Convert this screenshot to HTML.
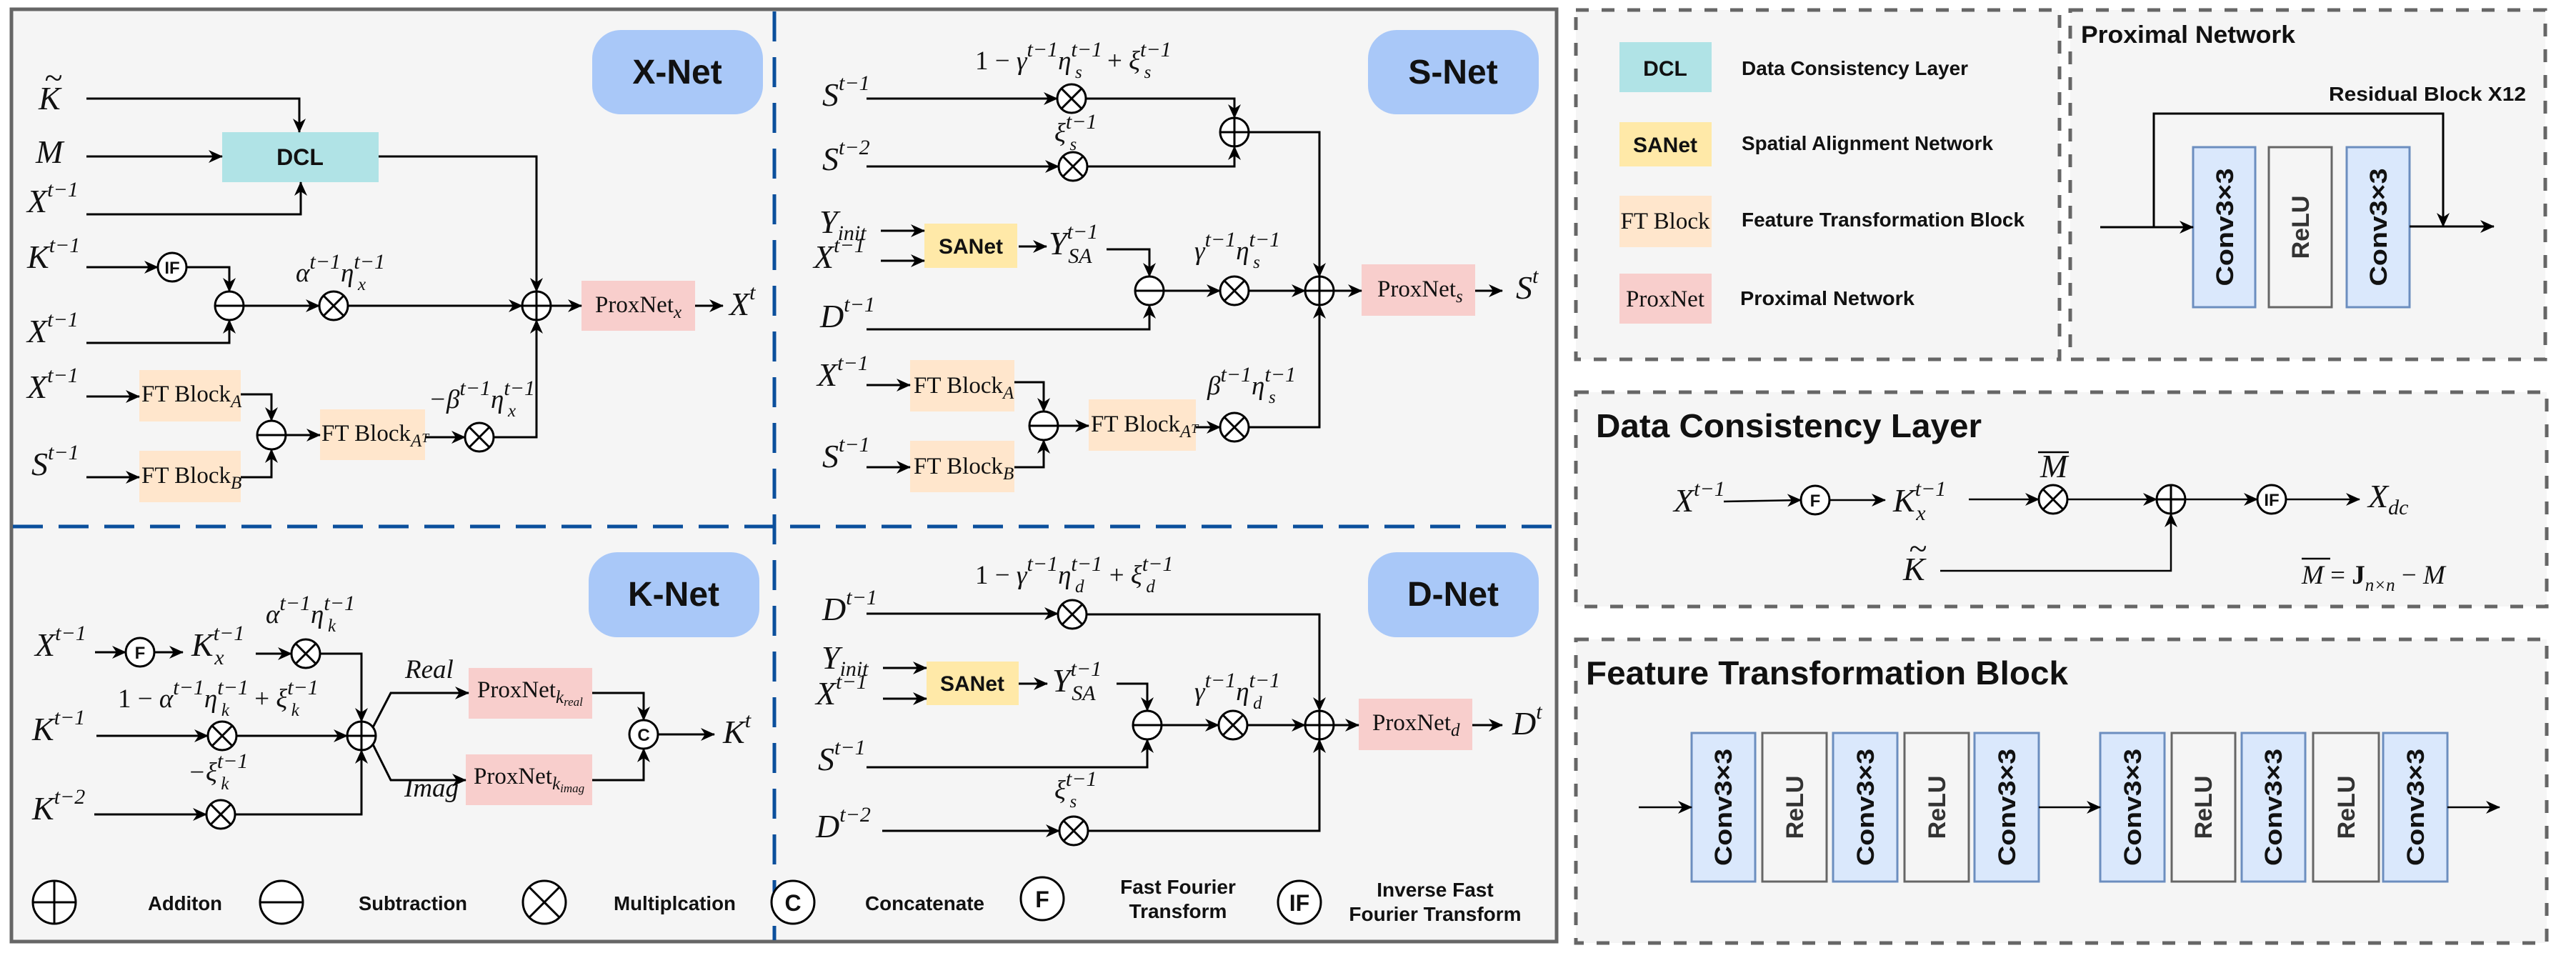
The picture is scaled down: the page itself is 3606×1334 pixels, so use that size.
<!DOCTYPE html>
<html><head><meta charset="utf-8"><style>
html,body{margin:0;padding:0;background:#fff}
svg{display:block}
.m{font-family:"Liberation Serif",serif;font-style:italic;font-size:46px;fill:#111}
.c{font-family:"Liberation Serif",serif;font-style:italic;font-size:37px;fill:#111}
.u{font-size:30px}
.v{font-size:25px}
.r{font-family:"Liberation Serif",serif;font-size:33px;fill:#111}
.b{font-family:"Liberation Sans",sans-serif;font-weight:bold;fill:#111}
.ln{fill:none;stroke:#000;stroke-width:3}
.ln2{fill:none;stroke:#000;stroke-width:2.5}
</style></head><body>
<svg width="3606" height="1334" viewBox="0 0 3606 1334" xmlns="http://www.w3.org/2000/svg">
<defs>
<marker id="a" viewBox="0 0 20 18" refX="19" refY="9" markerWidth="20" markerHeight="18" orient="auto" markerUnits="userSpaceOnUse"><path d="M0,0 L20,9 L0,18 L6,9 z" fill="#000"/></marker>
<g id="pl"><circle r="20" fill="#fff" stroke="#000" stroke-width="3"/><path d="M-20,0H20M0,-20V20" stroke="#000" stroke-width="3"/></g>
<g id="mi"><circle r="20" fill="#fff" stroke="#000" stroke-width="3"/><path d="M-20,0H20" stroke="#000" stroke-width="3"/></g>
<g id="ti"><circle r="20" fill="#fff" stroke="#000" stroke-width="3"/><path d="M-14,-14L14,14M14,-14L-14,14" stroke="#000" stroke-width="3"/></g>
<g id="IF"><circle r="20" fill="#fff" stroke="#000" stroke-width="3"/><text y="9" text-anchor="middle" class="b" font-size="24">IF</text></g>
<g id="F"><circle r="20" fill="#fff" stroke="#000" stroke-width="3"/><text y="9" text-anchor="middle" class="b" font-size="24">F</text></g>
<g id="C"><circle r="20" fill="#fff" stroke="#000" stroke-width="3"/><text y="9" text-anchor="middle" class="b" font-size="24">C</text></g>
</defs>

<rect x="16" y="13" width="2163" height="1305" fill="#f5f5f5" stroke="#666" stroke-width="5"/>
<line x1="1084" y1="16" x2="1084" y2="1316" stroke="#0b4f9c" stroke-width="5" stroke-dasharray="42 22"/>
<line x1="18" y1="737" x2="2177" y2="737" stroke="#0b4f9c" stroke-width="5" stroke-dasharray="42 22"/>

<rect x="829" y="42" width="239" height="118" rx="40" fill="#a9c8f8"/>
<text x="948" y="117" text-anchor="middle" class="b" font-size="48" fill="#222">X-Net</text>
<rect x="1915" y="42" width="239" height="118" rx="40" fill="#a9c8f8"/>
<text x="2034" y="117" text-anchor="middle" class="b" font-size="48" fill="#222">S-Net</text>
<rect x="824" y="773" width="239" height="119" rx="40" fill="#a9c8f8"/>
<text x="943" y="848" text-anchor="middle" class="b" font-size="48" fill="#222">K-Net</text>
<rect x="1915" y="773" width="239" height="119" rx="40" fill="#a9c8f8"/>
<text x="2034" y="848" text-anchor="middle" class="b" font-size="48" fill="#222">D-Net</text>

<!-- X-Net -->
<rect x="311" y="185" width="219" height="70" fill="#b0e3e6"/>
<text x="420" y="231" text-anchor="middle" class="b" font-size="32">DCL</text>
<rect x="814" y="393" width="159" height="70" fill="#f8cecc"/>
<text x="833" y="437" class="r">ProxNet<tspan class="v" font-style="italic" dy="8">x</tspan></text>
<rect x="195" y="518" width="142" height="72" fill="#ffe6cc"/>
<text x="198" y="562" class="r">FT Block<tspan class="v" font-style="italic" dy="8">A</tspan></text>
<rect x="195" y="631" width="142" height="72" fill="#ffe6cc"/>
<text x="198" y="676" class="r">FT Block<tspan class="v" font-style="italic" dy="8">B</tspan></text>
<rect x="448" y="573" width="147" height="71" fill="#ffe6cc"/>
<text x="450" y="617" class="r">FT Block<tspan class="v" font-style="italic" dy="8">A<tspan font-size="18" dy="-6">T</tspan></tspan></text>

<text class="m" x="54" y="153">K</text><text class="m" x="62" y="124" font-style="normal">~</text>
<text class="m" x="50" y="228">M</text>
<text class="m" x="38" y="297">X<tspan class="u" dy="-22">t−1</tspan></text>
<text class="m" x="38" y="375">K<tspan class="u" dy="-22">t−1</tspan></text>
<text class="m" x="38" y="479">X<tspan class="u" dy="-22">t−1</tspan></text>
<text class="m" x="38" y="557">X<tspan class="u" dy="-22">t−1</tspan></text>
<text class="m" x="44" y="665">S<tspan class="u" dy="-22">t−1</tspan></text>
<text class="c" x="414" y="394">α<tspan class="u" dy="-18">t−1</tspan><tspan dy="18">η</tspan><tspan class="u" dy="-18">t−1</tspan><tspan class="v" dx="-38" dy="30">x</tspan></text>
<text class="c" x="600" y="571">−β<tspan class="u" dy="-18">t−1</tspan><tspan dy="18">η</tspan><tspan class="u" dy="-18">t−1</tspan><tspan class="v" dx="-38" dy="30">x</tspan></text>
<text class="m" x="1021" y="441">X<tspan class="u" dy="-22">t</tspan></text>

<g marker-end="url(#a)">
<polyline class="ln" points="121,138 419,138 419,185"/>
<polyline class="ln" points="121,219 311,219"/>
<polyline class="ln" points="121,300 421,300 421,255"/>
<polyline class="ln" points="530,219 751,219 751,408"/>
<polyline class="ln" points="121,374 221,374"/>
<polyline class="ln" points="261,374 321,374 321,408"/>
<polyline class="ln" points="121,480 321,480 321,448"/>
<polyline class="ln" points="341,428 447,428"/>
<polyline class="ln" points="487,428 731,428"/>
<polyline class="ln" points="771,428 814,428"/>
<polyline class="ln" points="973,428 1012,428"/>
<polyline class="ln" points="121,555 195,555"/>
<polyline class="ln" points="121,668 195,668"/>
<polyline class="ln" points="337,552 380,552 380,589"/>
<polyline class="ln" points="337,668 380,668 380,629"/>
<polyline class="ln" points="400,609 448,609"/>
<polyline class="ln" points="595,612 651,612"/>
<polyline class="ln" points="691,612 751,612 751,448"/>
</g>
<use href="#IF" x="241" y="374"/>
<use href="#mi" x="321" y="428"/>
<use href="#ti" x="467" y="428"/>
<use href="#pl" x="751" y="428"/>
<use href="#mi" x="380" y="609"/>
<use href="#ti" x="671" y="612"/>

<!-- S-Net -->
<rect x="1294" y="313" width="130" height="62" fill="#ffe9a8"/>
<text x="1359" y="355" text-anchor="middle" class="b" font-size="30">SANet</text>
<rect x="1906" y="370" width="159" height="72" fill="#f8cecc"/>
<text x="1928" y="415" class="r">ProxNet<tspan class="v" font-style="italic" dy="8">s</tspan></text>
<rect x="1274" y="504" width="146" height="72" fill="#ffe6cc"/>
<text x="1279" y="550" class="r">FT Block<tspan class="v" font-style="italic" dy="8">A</tspan></text>
<rect x="1274" y="617" width="146" height="72" fill="#ffe6cc"/>
<text x="1279" y="663" class="r">FT Block<tspan class="v" font-style="italic" dy="8">B</tspan></text>
<rect x="1524" y="559" width="150" height="72" fill="#ffe6cc"/>
<text x="1527" y="604" class="r">FT Block<tspan class="v" font-style="italic" dy="8">A<tspan font-size="18" dy="-6">T</tspan></tspan></text>

<text class="c" x="1365" y="97"><tspan font-style="normal">1 − </tspan>γ<tspan class="u" dy="-18">t−1</tspan><tspan dy="18">η</tspan><tspan class="u" dy="-18">t−1</tspan><tspan class="v" dx="-38" dy="30">s</tspan><tspan font-style="normal" dx="26" dy="-12"> + </tspan>ξ<tspan class="u" dy="-18">t−1</tspan><tspan class="v" dx="-38" dy="30">s</tspan></text>
<text class="m" x="1151" y="148">S<tspan class="u" dy="-22">t−1</tspan></text>
<text class="c" x="1476" y="198">ξ<tspan class="u" dy="-18">t−1</tspan><tspan class="v" dx="-38" dy="30">s</tspan></text>
<text class="m" x="1151" y="238">S<tspan class="u" dy="-22">t−2</tspan></text>
<text class="m" x="1147" y="326">Y<tspan class="u" dy="10">init</tspan></text>
<text class="m" x="1139" y="375">X<tspan class="u" dy="-22">t−1</tspan></text>
<text class="m" x="1468" y="356">Y<tspan class="u" dy="-22">t−1</tspan><tspan class="u" dx="-42" dy="34">SA</tspan></text>
<text class="m" x="1148" y="458">D<tspan class="u" dy="-22">t−1</tspan></text>
<text class="c" x="1672" y="363">γ<tspan class="u" dy="-18">t−1</tspan><tspan dy="18">η</tspan><tspan class="u" dy="-18">t−1</tspan><tspan class="v" dx="-38" dy="30">s</tspan></text>
<text class="m" x="1144" y="540">X<tspan class="u" dy="-22">t−1</tspan></text>
<text class="m" x="1151" y="654">S<tspan class="u" dy="-22">t−1</tspan></text>
<text class="c" x="1690" y="552">β<tspan class="u" dy="-18">t−1</tspan><tspan dy="18">η</tspan><tspan class="u" dy="-18">t−1</tspan><tspan class="v" dx="-38" dy="30">s</tspan></text>
<text class="m" x="2122" y="418">S<tspan class="u" dy="-22">t</tspan></text>

<g marker-end="url(#a)">
<polyline class="ln" points="1213,138 1480,138"/>
<polyline class="ln" points="1213,233 1482,233"/>
<polyline class="ln" points="1520,138 1728,138 1728,165"/>
<polyline class="ln" points="1522,233 1728,233 1728,205"/>
<polyline class="ln" points="1748,185 1847,185 1847,387"/>
<polyline class="ln" points="1233,323 1294,323"/>
<polyline class="ln" points="1233,365 1294,365"/>
<polyline class="ln" points="1426,345 1465,345"/>
<polyline class="ln" points="1549,349 1609,349 1609,387"/>
<polyline class="ln" points="1213,461 1609,461 1609,427"/>
<polyline class="ln" points="1629,407 1708,407"/>
<polyline class="ln" points="1748,407 1827,407"/>
<polyline class="ln" points="1867,407 1906,407"/>
<polyline class="ln" points="2065,407 2103,407"/>
<polyline class="ln" points="1213,539 1274,539"/>
<polyline class="ln" points="1213,654 1274,654"/>
<polyline class="ln" points="1420,535 1461,535 1461,576"/>
<polyline class="ln" points="1420,654 1461,654 1461,616"/>
<polyline class="ln" points="1481,596 1524,596"/>
<polyline class="ln" points="1674,598 1708,598"/>
<polyline class="ln" points="1748,598 1847,598 1847,427"/>
</g>
<use href="#ti" x="1500" y="138"/>
<use href="#ti" x="1502" y="233"/>
<use href="#pl" x="1728" y="185"/>
<use href="#mi" x="1609" y="407"/>
<use href="#ti" x="1728" y="407"/>
<use href="#pl" x="1847" y="407"/>
<use href="#mi" x="1461" y="596"/>
<use href="#ti" x="1728" y="598"/>

<!-- K-Net -->
<rect x="656" y="935" width="173" height="71" fill="#f8cecc"/>
<text x="668" y="976" class="r">ProxNet<tspan class="v" font-style="italic" dy="8">k<tspan font-size="17" dy="4">real</tspan></tspan></text>
<rect x="652" y="1056" width="177" height="71" fill="#f8cecc"/>
<text x="663" y="1097" class="r">ProxNet<tspan class="v" font-style="italic" dy="8">k<tspan font-size="17" dy="4">imag</tspan></tspan></text>

<text class="m" x="49" y="918">X<tspan class="u" dy="-22">t−1</tspan></text>
<text class="m" x="268" y="918">K<tspan class="u" dy="-22">t−1</tspan><tspan class="u" dx="-42" dy="34">x</tspan></text>
<text class="c" x="372" y="872">α<tspan class="u" dy="-18">t−1</tspan><tspan dy="18">η</tspan><tspan class="u" dy="-18">t−1</tspan><tspan class="v" dx="-38" dy="30">k</tspan></text>
<text class="c" x="165" y="990"><tspan font-style="normal">1 − </tspan>α<tspan class="u" dy="-18">t−1</tspan><tspan dy="18">η</tspan><tspan class="u" dy="-18">t−1</tspan><tspan class="v" dx="-38" dy="30">k</tspan><tspan font-style="normal" dx="26" dy="-12"> + </tspan>ξ<tspan class="u" dy="-18">t−1</tspan><tspan class="v" dx="-38" dy="30">k</tspan></text>
<text class="m" x="45" y="1036">K<tspan class="u" dy="-22">t−1</tspan></text>
<text class="c" x="263" y="1093">−ξ<tspan class="u" dy="-18">t−1</tspan><tspan class="v" dx="-38" dy="30">k</tspan></text>
<text class="m" x="45" y="1147">K<tspan class="u" dy="-22">t−2</tspan></text>
<text class="c" x="567" y="949" font-size="26">Real</text>
<text class="c" x="566" y="1115" font-size="26">Imag</text>
<text class="m" x="1012" y="1040">K<tspan class="u" dy="-22">t</tspan></text>

<g marker-end="url(#a)">
<polyline class="ln" points="133,913 176,913"/>
<polyline class="ln" points="216,913 256,913"/>
<polyline class="ln" points="358,915 408,915"/>
<polyline class="ln" points="448,915 506,915 506,1010"/>
<polyline class="ln" points="135,1030 291,1030"/>
<polyline class="ln" points="331,1030 486,1030"/>
<polyline class="ln" points="132,1140 289,1140"/>
<polyline class="ln" points="329,1140 506,1140 506,1050"/>
<polyline class="ln" points="521,1020 547,970 656,970"/>
<polyline class="ln" points="521,1040 547,1092 652,1092"/>
<polyline class="ln" points="829,970 901,970 901,1008"/>
<polyline class="ln" points="829,1092 901,1092 901,1048"/>
<polyline class="ln" points="921,1028 1000,1028"/>
</g>
<use href="#F" x="196" y="913"/>
<use href="#ti" x="428" y="915"/>
<use href="#ti" x="311" y="1030"/>
<use href="#ti" x="309" y="1140"/>
<use href="#pl" x="506" y="1030"/>
<use href="#C" x="901" y="1028"/>

<!-- D-Net -->
<rect x="1297" y="926" width="129" height="61" fill="#ffe9a8"/>
<text x="1361" y="967" text-anchor="middle" class="b" font-size="30">SANet</text>
<rect x="1902" y="978" width="159" height="72" fill="#f8cecc"/>
<text x="1921" y="1022" class="r">ProxNet<tspan class="v" font-style="italic" dy="8">d</tspan></text>

<text class="c" x="1365" y="817"><tspan font-style="normal">1 − </tspan>γ<tspan class="u" dy="-18">t−1</tspan><tspan dy="18">η</tspan><tspan class="u" dy="-18">t−1</tspan><tspan class="v" dx="-38" dy="30">d</tspan><tspan font-style="normal" dx="26" dy="-12"> + </tspan>ξ<tspan class="u" dy="-18">t−1</tspan><tspan class="v" dx="-38" dy="30">d</tspan></text>
<text class="m" x="1151" y="868">D<tspan class="u" dy="-22">t−1</tspan></text>
<text class="m" x="1150" y="936">Y<tspan class="u" dy="10">init</tspan></text>
<text class="m" x="1142" y="986">X<tspan class="u" dy="-22">t−1</tspan></text>
<text class="m" x="1473" y="968">Y<tspan class="u" dy="-22">t−1</tspan><tspan class="u" dx="-42" dy="34">SA</tspan></text>
<text class="c" x="1672" y="980">γ<tspan class="u" dy="-18">t−1</tspan><tspan dy="18">η</tspan><tspan class="u" dy="-18">t−1</tspan><tspan class="v" dx="-38" dy="30">d</tspan></text>
<text class="m" x="1145" y="1078">S<tspan class="u" dy="-22">t−1</tspan></text>
<text class="c" x="1476" y="1118">ξ<tspan class="u" dy="-18">t−1</tspan><tspan class="v" dx="-38" dy="30">s</tspan></text>
<text class="m" x="1142" y="1172">D<tspan class="u" dy="-22">t−2</tspan></text>
<text class="m" x="2117" y="1028">D<tspan class="u" dy="-22">t</tspan></text>

<g marker-end="url(#a)">
<polyline class="ln" points="1213,859 1481,859"/>
<polyline class="ln" points="1521,860 1847,860 1847,995"/>
<polyline class="ln" points="1236,935 1297,935"/>
<polyline class="ln" points="1236,978 1297,978"/>
<polyline class="ln" points="1426,957 1466,957"/>
<polyline class="ln" points="1563,957 1606,957 1606,995"/>
<polyline class="ln" points="1213,1074 1606,1074 1606,1035"/>
<polyline class="ln" points="1626,1015 1706,1015"/>
<polyline class="ln" points="1746,1015 1827,1015"/>
<polyline class="ln" points="1867,1015 1902,1015"/>
<polyline class="ln" points="2061,1015 2103,1015"/>
<polyline class="ln" points="1235,1163 1483,1163"/>
<polyline class="ln" points="1523,1163 1847,1163 1847,1035"/>
</g>
<use href="#ti" x="1501" y="860"/>
<use href="#mi" x="1606" y="1015"/>
<use href="#ti" x="1726" y="1015"/>
<use href="#pl" x="1847" y="1015"/>
<use href="#ti" x="1503" y="1163"/>

<!-- bottom legend -->
<g stroke="#000" stroke-width="3" fill="#fff">
<circle cx="76" cy="1263" r="30"/><path d="M46,1263H106M76,1233V1293"/>
<circle cx="394" cy="1263" r="30"/><path d="M364,1263H424"/>
<circle cx="762" cy="1263" r="30"/><path d="M741,1242L783,1284M783,1242L741,1284"/>
<circle cx="1110" cy="1263" r="30"/>
<circle cx="1459" cy="1258" r="30"/>
<circle cx="1819" cy="1263" r="30"/>
</g>
<text x="1110" y="1275" text-anchor="middle" class="b" font-size="32">C</text>
<text x="1459" y="1270" text-anchor="middle" class="b" font-size="32">F</text>
<text x="1819" y="1275" text-anchor="middle" class="b" font-size="32">IF</text>
<g class="b" font-size="28">
<text x="207" y="1274" textLength="104" lengthAdjust="spacingAndGlyphs">Additon</text>
<text x="502" y="1274" textLength="152" lengthAdjust="spacingAndGlyphs">Subtraction</text>
<text x="859" y="1274" textLength="171" lengthAdjust="spacingAndGlyphs">Multiplcation</text>
<text x="1211" y="1274" textLength="167" lengthAdjust="spacingAndGlyphs">Concatenate</text>
<text x="1649" y="1251" text-anchor="middle">Fast Fourier</text>
<text x="1649" y="1285" text-anchor="middle">Transform</text>
<text x="2009" y="1255" text-anchor="middle">Inverse Fast</text>
<text x="2009" y="1289" text-anchor="middle">Fourier Transform</text>
</g>

<!-- right boxes -->
<g fill="#f5f5f5" stroke="#666" stroke-width="5" stroke-dasharray="18 18">
<rect x="2206" y="14" width="677" height="489"/>
<rect x="2898" y="14" width="665" height="489"/>
<rect x="2206" y="549" width="1359" height="300"/>
<rect x="2206" y="895" width="1359" height="425"/>
</g>
<rect x="2267" y="59" width="129" height="70" fill="#b0e3e6"/>
<text x="2331" y="106" text-anchor="middle" class="b" font-size="30">DCL</text>
<rect x="2267" y="171" width="129" height="62" fill="#ffe9a8"/>
<text x="2331" y="213" text-anchor="middle" class="b" font-size="30">SANet</text>
<rect x="2267" y="274" width="129" height="72" fill="#ffe6cc"/>
<text x="2331" y="320" text-anchor="middle" class="r" font-size="30">FT Block</text>
<rect x="2267" y="383" width="129" height="70" fill="#f8cecc"/>
<text x="2331" y="429" text-anchor="middle" class="r" font-size="30">ProxNet</text>
<g class="b" font-size="28">
<text x="2438" y="105" textLength="317" lengthAdjust="spacingAndGlyphs">Data Consistency Layer</text>
<text x="2438" y="210" textLength="352" lengthAdjust="spacingAndGlyphs">Spatial Alignment Network</text>
<text x="2438" y="317" textLength="396" lengthAdjust="spacingAndGlyphs">Feature Transformation Block</text>
<text x="2436" y="427" textLength="244" lengthAdjust="spacingAndGlyphs">Proximal  Network</text>
</g>

<text x="2913" y="60" class="b" font-size="34" textLength="300" lengthAdjust="spacingAndGlyphs">Proximal Network</text>
<text x="3260" y="141" class="b" font-size="28" textLength="276" lengthAdjust="spacingAndGlyphs">Residual Block X12</text>
<rect x="3070" y="206" width="87" height="224" fill="#dae8fc" stroke="#6c8ebf" stroke-width="3"/>
<rect x="3176" y="206" width="88" height="224" fill="#f5f5f5" stroke="#666" stroke-width="3"/>
<rect x="3285" y="206" width="88" height="224" fill="#dae8fc" stroke="#6c8ebf" stroke-width="3"/>
<g class="b" font-size="34" text-anchor="middle">
<text transform="translate(3126,318) rotate(-90)" textLength="165" lengthAdjust="spacingAndGlyphs">Conv3×3</text>
<text transform="translate(3232,318) rotate(-90)" fill="#333">ReLU</text>
<text transform="translate(3341,318) rotate(-90)" textLength="165" lengthAdjust="spacingAndGlyphs">Conv3×3</text>
</g>
<g marker-end="url(#a)">
<polyline class="ln" points="2940,318 3070,318"/>
<polyline class="ln" points="3015,318 3015,159 3420,159 3420,317"/>
<polyline class="ln" points="3373,317 3491,317"/>
</g>

<!-- DCL panel -->
<text x="2234" y="612" class="b" font-size="46" textLength="540" lengthAdjust="spacingAndGlyphs">Data Consistency Layer</text>
<text class="m" x="2343" y="716">X<tspan class="u" dy="-22">t−1</tspan></text>
<text class="m" x="2650" y="716">K<tspan class="u" dy="-22">t−1</tspan><tspan class="u" dx="-42" dy="34">x</tspan></text>
<text class="m" x="2856" y="668">M</text><line x1="2853" y1="633" x2="2896" y2="633" stroke="#000" stroke-width="2.5"/>
<text class="m" x="3315" y="710">X<tspan class="u" dy="10">dc</tspan></text>
<text class="m" x="2664" y="812">K</text><text class="m" x="2672" y="783" font-style="normal">~</text>
<text class="c" x="3222" y="817" font-size="40">M<tspan font-style="normal"> = </tspan><tspan font-style="normal" font-weight="bold">J</tspan><tspan class="v" dy="10">n×n</tspan><tspan font-style="normal" dy="-10"> − </tspan>M</text>
<line x1="3222" y1="782" x2="3262" y2="782" stroke="#000" stroke-width="2.5"/>
<g marker-end="url(#a)">
<polyline class="ln2" points="2413,702 2521,700"/>
<polyline class="ln2" points="2561,700 2639,700"/>
<polyline class="ln2" points="2756,699 2854,699"/>
<polyline class="ln2" points="2894,699 3019,699"/>
<polyline class="ln2" points="3059,699 3160,699"/>
<polyline class="ln2" points="3200,699 3303,699"/>
<polyline class="ln2" points="2716,799 3039,799 3039,719"/>
</g>
<use href="#F" x="2541" y="700"/>
<use href="#ti" x="2874" y="699"/>
<use href="#pl" x="3039" y="699"/>
<use href="#IF" x="3180" y="699"/>

<!-- FT panel -->
<text x="2220" y="958" class="b" font-size="46" textLength="675" lengthAdjust="spacingAndGlyphs">Feature Transformation Block</text>
<g stroke-width="3">
<rect x="2368" y="1026" width="89" height="208" fill="#dae8fc" stroke="#6c8ebf"/>
<rect x="2467" y="1026" width="90" height="208" fill="#f5f5f5" stroke="#666"/>
<rect x="2566" y="1026" width="90" height="208" fill="#dae8fc" stroke="#6c8ebf"/>
<rect x="2666" y="1026" width="90" height="208" fill="#f5f5f5" stroke="#666"/>
<rect x="2764" y="1026" width="90" height="208" fill="#dae8fc" stroke="#6c8ebf"/>
<rect x="2940" y="1026" width="90" height="208" fill="#dae8fc" stroke="#6c8ebf"/>
<rect x="3040" y="1026" width="89" height="208" fill="#f5f5f5" stroke="#666"/>
<rect x="3138" y="1026" width="89" height="208" fill="#dae8fc" stroke="#6c8ebf"/>
<rect x="3238" y="1026" width="92" height="208" fill="#f5f5f5" stroke="#666"/>
<rect x="3336" y="1026" width="90" height="208" fill="#dae8fc" stroke="#6c8ebf"/>
</g>
<g class="b" font-size="34" text-anchor="middle">
<text transform="translate(2424,1130) rotate(-90)" textLength="164" lengthAdjust="spacingAndGlyphs">Conv3×3</text>
<text transform="translate(2524,1130) rotate(-90)" fill="#333">ReLU</text>
<text transform="translate(2623,1130) rotate(-90)" textLength="164" lengthAdjust="spacingAndGlyphs">Conv3×3</text>
<text transform="translate(2723,1130) rotate(-90)" fill="#333">ReLU</text>
<text transform="translate(2821,1130) rotate(-90)" textLength="164" lengthAdjust="spacingAndGlyphs">Conv3×3</text>
<text transform="translate(2997,1130) rotate(-90)" textLength="164" lengthAdjust="spacingAndGlyphs">Conv3×3</text>
<text transform="translate(3096,1130) rotate(-90)" fill="#333">ReLU</text>
<text transform="translate(3194,1130) rotate(-90)" textLength="164" lengthAdjust="spacingAndGlyphs">Conv3×3</text>
<text transform="translate(3296,1130) rotate(-90)" fill="#333">ReLU</text>
<text transform="translate(3393,1130) rotate(-90)" textLength="164" lengthAdjust="spacingAndGlyphs">Conv3×3</text>
</g>
<g marker-end="url(#a)">
<polyline class="ln2" points="2294,1130 2368,1130"/>
<polyline class="ln2" points="2854,1130 2940,1130"/>
<polyline class="ln2" points="3426,1130 3499,1130"/>
</g>
</svg>
</body></html>
